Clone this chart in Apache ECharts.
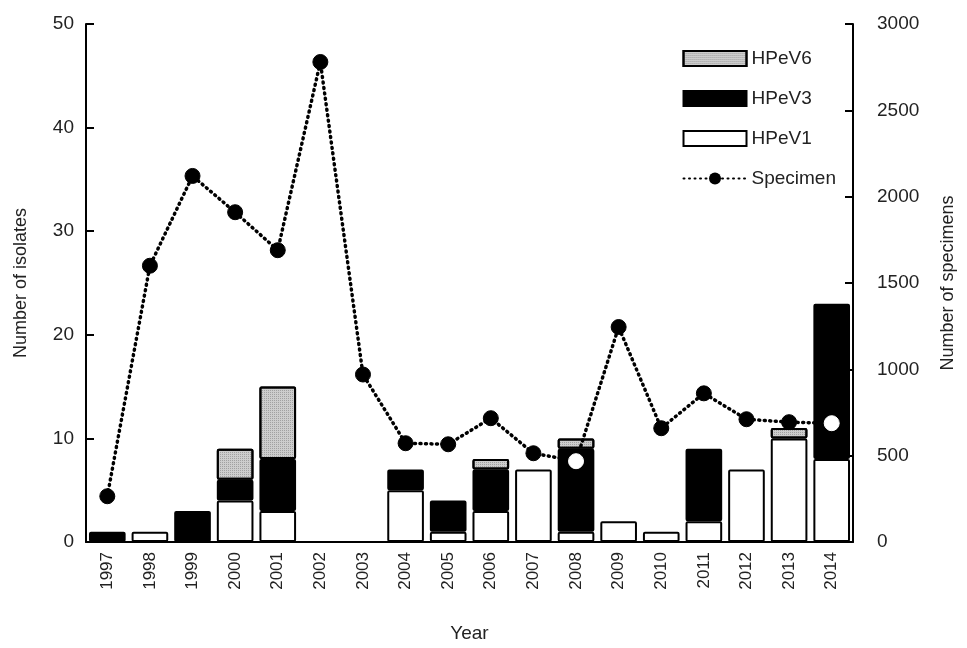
<!DOCTYPE html>
<html>
<head>
<meta charset="utf-8">
<script src="https://cdn.jsdelivr.net/npm/echarts@6/dist/echarts.min.js"></script>
<style>html,body{margin:0;padding:0;background:#fff;}#c{width:967px;height:648px;}</style>
</head>
<body>
<div id="c"></div>
<script>
var years = ['1997','1998','1999','2000','2001','2002','2003','2004','2005','2006','2007','2008','2009','2010','2011','2012','2013','2014'];
var hpev1 = [0,1,0,4,3,0,0,5,1,3,7,1,2,1,2,7,10,8];
var hpev3 = [1,0,3,2,5,0,0,2,3,4,0,8,0,0,7,0,0,15];
var hpev6 = [0,0,0,3,7,0,0,0,0,1,0,1,0,0,0,0,1,0];
var specimens = [265,1600,2120,1910,1690,2780,970,572,566,717,514,468,1245,659,861,711,694,688];
var whitePoints = ['2008','2014'];

var chart = echarts.init(document.getElementById('c'));
var font = 'Liberation Sans, Arial, sans-serif';
var barBorder = {borderColor:'#000', borderWidth:2, borderRadius:1};

function nz(arr){ return arr.map(function(v){ return v === 0 ? null : v; }); }

function barSeries(name, data, color, extra){
  return {
    name: name, type:'bar', stack:'iso', data: nz(data), barCategoryGap:'14%',
    itemStyle: Object.assign({color: color}, barBorder, extra || {}),
    emphasis:{disabled:true}
  };
}

var specData = specimens.map(function(v,i){
  if (whitePoints.indexOf(years[i]) >= 0) return {value:v, itemStyle:{color:'#fff', borderColor:'#fff'}};
  return v;
});

chart.setOption({
  animation:false,
  textStyle:{fontFamily:font},
  grid:{left:86, right:114, top:24, bottom:105},
  legend:{
    orient:'vertical', right:126, top:44, itemGap:21, itemWidth:63, itemHeight:15,
    textStyle:{fontSize:19, color:'#222', fontFamily:font},
    data:[{name:'HPeV6', icon:'rect'},{name:'HPeV3', icon:'rect'},{name:'HPeV1', icon:'rect'},'Specimen']
  },
  xAxis:{
    type:'category', data: years, boundaryGap:true,
    name:'Year', nameLocation:'middle', nameGap:82,
    nameTextStyle:{fontSize:19, color:'#222'},
    axisLine:{lineStyle:{color:'#000', width:2}},
    axisTick:{inside:true, length:6, lineStyle:{color:'#000', width:2}},
    axisLabel:{rotate:90, fontSize:17, color:'#222', margin:10}
  },
  yAxis:[{
    type:'value', min:0, max:50, interval:10,
    name:'Number of isolates', nameLocation:'middle', nameGap:56,
    nameTextStyle:{fontSize:18, color:'#222'},
    axisLine:{show:true, lineStyle:{color:'#000', width:2}},
    axisTick:{show:true, inside:true, length:8, lineStyle:{color:'#000', width:2}},
    axisLabel:{fontSize:19, color:'#222', margin:12},
    splitLine:{show:false}
  },{
    type:'value', min:0, max:3000, interval:500, position:'right',
    name:'Number of specimens', nameLocation:'middle', nameGap:86,
    nameTextStyle:{fontSize:18, color:'#222'},
    axisLine:{show:true, lineStyle:{color:'#000', width:2}},
    axisTick:{show:true, inside:true, length:8, lineStyle:{color:'#000', width:2}},
    axisLabel:{fontSize:19, color:'#222', margin:24, formatter:function(v){return String(v);}},
    splitLine:{show:false}
  }],
  series:[
    barSeries('HPeV1', hpev1, '#fff'),
    barSeries('HPeV3', hpev3, '#000'),
    barSeries('HPeV6', hpev6, '#cdcdcd', {decal:{symbol:'rect', symbolSize:1, dashArrayX:[1,1], dashArrayY:[1,1], color:'rgba(80,80,80,0.35)', rotation:0}}),
    {
      name:'Specimen', type:'line', yAxisIndex:1, data: specData,
      symbol:'circle', symbolSize:15,
      lineStyle:{color:'#000', width:3.5, type:[1,4.5], cap:'round'},
      itemStyle:{color:'#000', borderColor:'#000'},
      emphasis:{disabled:true}, z:5
    }
  ]
});
</script>
</body>
</html>
